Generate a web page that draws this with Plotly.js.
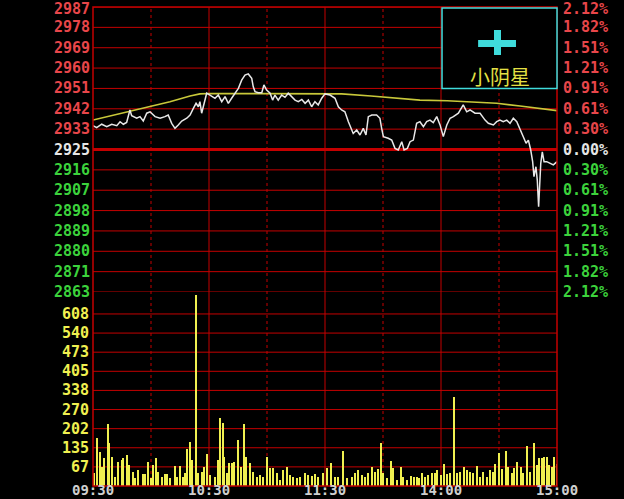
<!DOCTYPE html>
<html>
<head>
<meta charset="utf-8">
<script src="https://cdn.plot.ly/plotly-3.0.1.min.js"></script>
<style>
  html, body { margin: 0; padding: 0; background: #000; }
  #chart { width: 624px; height: 499px; }
</style>
</head>
<body>
<div id="chart"></div>
<script>
// ---------- data ----------
// time in minutes since 09:30 (trading minutes, 11:30/13:00 = 120)
const priceTimes = [0,1.9,4.5,7.1,9.7,12.3,14.0,15.7,17.4,19.1,20.0,22.6,24.3,26.0,27.8,29.5,32.1,34.7,37.2,38.9,40.7,42.4,44.1,45.9,48.5,50.2,51.9,53.3,54.5,55.3,56.2,57.9,58.8,60.5,63.1,64.8,66.6,68.3,70.0,71.7,73.4,75.2,76.9,78.6,80.3,82.1,82.9,83.8,85.5,87.3,88.4,89.8,91.6,92.9,94.1,95.8,97.6,99.3,101.0,102.8,104.5,106.2,108.0,109.7,111.4,113.1,114.8,116.5,118.3,120.0,122.6,125.2,126.9,128.6,130.3,132.1,133.8,134.6,136.4,138.1,139.8,141.2,142.4,144.2,146.7,148.4,149.3,150.2,152.7,154.5,156.2,157.9,159.7,160.9,162.6,164.0,165.7,167.4,169.1,170.9,172.6,174.3,176.0,177.8,179.5,181.2,183.0,184.7,186.4,189.0,191.5,193.3,195.0,197.6,200.2,202.8,204.5,207.1,208.8,210.5,212.2,214.0,215.7,217.4,219.2,220.9,222.6,224.0,225.2,226.4,227.4,228.1,229.1,229.8,230.5,231.2,231.6,232.4,233.3,234.7,236.4,238.1,240];
const prices = [2935.4,2934.5,2936.0,2934.9,2936.0,2935.4,2937.1,2936.0,2936.8,2942.2,2939.7,2938.6,2939.3,2937.4,2940.8,2941.4,2939.3,2938.6,2939.3,2940.0,2936.4,2934.2,2935.7,2937.4,2938.6,2940.0,2942.9,2945.1,2943.6,2945.8,2940.8,2947.3,2949.5,2948.7,2947.3,2948.7,2945.8,2948.0,2945.1,2947.3,2949.5,2951.6,2955.2,2957.4,2957.9,2956.0,2952.3,2950.2,2949.7,2949.7,2953.1,2950.9,2949.5,2946.5,2948.7,2946.5,2948.7,2947.7,2949.5,2948.0,2946.5,2945.8,2946.8,2945.1,2946.5,2943.6,2945.8,2944.4,2947.3,2949.2,2948.7,2947.3,2943.6,2942.2,2941.4,2937.1,2933.5,2932.0,2933.5,2931.3,2934.2,2931.3,2939.3,2940.0,2940.0,2938.6,2934.2,2930.6,2929.9,2929.1,2925.5,2924.8,2928.4,2924.8,2925.5,2928.4,2929.1,2936.4,2937.1,2934.9,2937.1,2937.8,2936.7,2939.3,2935.7,2930.6,2935.7,2938.6,2939.3,2940.8,2944.4,2941.4,2942.2,2940.8,2940.8,2937.8,2936.4,2935.7,2937.1,2937.8,2937.1,2937.8,2936.4,2938.6,2937.1,2933.5,2930.6,2927.7,2929.1,2924.8,2919.7,2913.2,2917.5,2911.7,2900.1,2911.7,2919.0,2924.0,2919.7,2919.7,2919.0,2918.3,2919.7];

const avgTimes = [0,8.8,19.1,29.5,39.8,50.2,55.3,60.5,120,128.6,143.8,159.3,169.1,183.2,195,208.8,220.9,229.5,240];
const avgPrices = [2937.8,2939.6,2941.4,2943.5,2945.8,2948.3,2949.2,2949.4,2949.4,2949.2,2948.3,2947.3,2946.5,2946.2,2945.8,2945.1,2943.9,2942.9,2941.9];

const volTimes = [0.5,2.2,3.6,4.5,5.7,7.6,8.4,9.8,11.4,13.1,14.8,15.7,17.4,18.8,20.5,21.7,23.4,25.7,26.9,28.6,30.0,31.2,32.4,33.8,35.5,37.2,38.4,39.8,42.4,43.6,45.0,46.4,47.6,48.8,50.2,51.1,53.3,54.5,56.2,57.4,59.1,60.5,63.1,64.8,65.7,67.1,67.8,69.1,70.5,71.7,72.9,75.2,76.4,78.1,79.1,81.2,82.9,84.7,86.4,88.1,90.2,91.6,93.3,95.0,96.7,98.4,100.2,101.9,103.6,105.4,107.1,109.7,111.4,113.1,114.8,116.5,118.8,120.9,122.9,125.2,126.9,129.5,131.2,133.8,135.5,137.2,139.0,140.7,142.4,144.2,145.9,147.6,149.0,150.2,152.2,154.0,155.3,157.1,159.2,160.5,162.6,164.3,166.0,167.4,168.8,170.0,171.7,173.4,175.2,176.9,178.1,179.9,181.6,183.3,184.7,186.9,188.4,189.8,191.9,193.3,195.0,196.7,198.5,200.2,201.9,203.6,205.3,206.7,208.1,209.9,211.4,213.6,214.8,216.6,217.8,219.5,221.2,222.6,224.3,226.0,228.1,229.5,230.7,232.1,233.3,234.7,236.0,237.3,238.5,239.9];
const volumes = [45,168,121,68,98,218,151,104,33,86,92,98,110,74,51,27,57,42,42,86,27,74,98,51,33,41,41,27,71,33,71,33,45,130,157,92,675,45,51,68,113,39,33,92,239,221,104,45,82,82,86,163,68,219,104,80,51,33,39,33,101,62,62,45,21,57,66,39,33,27,33,47,39,35,42,31,45,62,80,33,33,124,27,33,45,57,39,33,45,66,51,59,151,45,27,90,62,21,66,33,21,35,31,33,27,45,33,39,47,45,57,39,78,42,47,313,45,51,68,57,51,45,71,33,51,33,57,51,78,118,59,125,68,47,62,86,66,45,141,51,151,74,98,98,101,104,74,66,101,78];

// axis ticks
const priceTickVals = [2987.02,2978.16,2969.30,2960.44,2951.58,2942.72,2933.86,2925.00,2916.14,2907.28,2898.42,2889.56,2880.70,2871.84,2862.98];
const priceTickText = ["2987","2978","2969","2960","2951","2942","2933","2925","2916","2907","2898","2889","2880","2871","2863"];
const pctTickText = ["2.12%","1.82%","1.51%","1.21%","0.91%","0.61%","0.30%","0.00%","0.30%","0.61%","0.91%","1.21%","1.51%","1.82%","2.12%"];
const volTickVals = [607.5,540,472.5,405,337.5,270,202.5,135,67.5];
const volTickText = ["608","540","473","405","338","270","202","135","67"];
const timeTickVals = [0,60,120,180,240];
const timeTickText = ["09:30","10:30","11:30","14:00","15:00"];
const solidVLines = [60,120,180];
const dottedVLines = [30,90,150,210];
const baseIndex = 7;
const legendLabel = "小阴星";

// ---------- styles ----------
const RED = '#c40000';
const UP = '#e8464a';
const DOWN = '#3cd23c';
const FLAT = '#e6e6e6';
const VOLC = '#f0f050';
const labelFont = 'DejaVu Sans Mono';

const shapes = [];
priceTickVals.forEach((v, i) => {
  shapes.push({type:'line', xref:'paper', yref:'y', x0:0, x1:1, y0:v, y1:v,
    line:{color:RED, width: i === baseIndex ? 3 : 1}, layer:'below'});
});
volTickVals.forEach(v => {
  shapes.push({type:'line', xref:'paper', yref:'y2', x0:0, x1:1, y0:v, y1:v,
    line:{color:RED, width:1}, layer:'below'});
});
solidVLines.forEach(t => {
  shapes.push({type:'line', xref:'x', yref:'paper', x0:t, x1:t, y0:0, y1:1,
    line:{color:RED, width:1}, layer:'below'});
});
dottedVLines.forEach(t => {
  shapes.push({type:'line', xref:'x', yref:'paper', x0:t, x1:t, y0:0, y1:1,
    line:{color:RED, width:1, dash:'dot'}, layer:'below'});
});
// plot border
shapes.push({type:'rect', xref:'paper', yref:'paper', x0:0, x1:1, y0:0, y1:1,
  line:{color:RED, width:1.5}, layer:'above'});
// legend box (cyan) with plus glyph
const CYAN = '#3fdcdc';
shapes.push({type:'rect', xref:'paper', yref:'paper', x0:0.7522, x1:1.0, y0:0.8298, y1:0.9979,
  line:{color:CYAN, width:1.5}, fillcolor:'#000', layer:'above'});
shapes.push({type:'rect', xref:'paper', yref:'paper', x0:0.8300, x1:0.9116, y0:0.9165, y1:0.9311,
  line:{width:0}, fillcolor:CYAN, layer:'above'});
shapes.push({type:'rect', xref:'paper', yref:'paper', x0:0.8642, x1:0.8793, y0:0.8998, y1:0.9520,
  line:{width:0}, fillcolor:CYAN, layer:'above'});

const annotations = [];
priceTickVals.forEach((v, i) => {
  const col = i < baseIndex ? UP : (i === baseIndex ? FLAT : DOWN);
  const ys = i === 0 ? -2 : 0;
  annotations.push({xref:'paper', yref:'y', x:0, y:v, xanchor:'right', yanchor:'middle',
    xshift:-2, yshift:ys, text:priceTickText[i], showarrow:false, borderpad:0,
    font:{family:labelFont, size:15, color:col, weight:'bold'}});
  annotations.push({xref:'paper', yref:'y', x:1, y:v, xanchor:'left', yanchor:'middle',
    xshift:5, yshift:ys, text:pctTickText[i], showarrow:false, borderpad:0,
    font:{family:labelFont, size:15, color:col, weight:'bold'}});
});
volTickVals.forEach((v, i) => {
  annotations.push({xref:'paper', yref:'y2', x:0, y:v, xanchor:'right', yanchor:'middle',
    xshift:-2, text:volTickText[i], showarrow:false,
    font:{family:labelFont, size:15, color:VOLC, weight:'bold'}});
});
timeTickVals.forEach((t, i) => {
  annotations.push({xref:'x', yref:'paper', x:t, y:0, xanchor:'center', yanchor:'middle',
    yshift:-4, text:timeTickText[i], showarrow:false, borderpad:0,
    font:{family:labelFont, size:14, color:'#cfcfcf', weight:'bold'}});
});
annotations.push({xref:'paper', yref:'paper', x:0.8761, y:0.854, xanchor:'center', yanchor:'middle',
  text:legendLabel, showarrow:false,
  font:{family:'Noto Sans CJK SC', size:20, color:'#e4e044'}});

const traces = [
  {type:'bar', x:volTimes, y:volumes, xaxis:'x', yaxis:'y2', width:1.1,
   marker:{color:VOLC, line:{width:0}}, hoverinfo:'skip'},
  {type:'scatter', mode:'lines', x:avgTimes, y:avgPrices, xaxis:'x', yaxis:'y',
   line:{color:'#c8c83a', width:1.6}, hoverinfo:'skip'},
  {type:'scatter', mode:'lines', x:priceTimes, y:prices, xaxis:'x', yaxis:'y',
   line:{color:'#e8e8e8', width:1.5}, hoverinfo:'skip'}
];

const layout = {
  width:624, height:499,
  margin:{l:93, r:67, t:7, b:13},
  paper_bgcolor:'#000', plot_bgcolor:'#000',
  showlegend:false,
  bargap:0,
  xaxis:{domain:[0,1], range:[0,240], anchor:'y2', showgrid:false, zeroline:false, showline:false,
    showticklabels:false, ticks:'', automargin:false, fixedrange:true},
  yaxis:{domain:[0.405,1], range:[priceTickVals[priceTickVals.length-1], priceTickVals[0]],
    showgrid:false, zeroline:false, showticklabels:false, showline:false, fixedrange:true},
  yaxis2:{domain:[0,0.405], range:[0,685], showgrid:false, zeroline:false, showticklabels:false,
    showline:false, fixedrange:true},
  shapes:shapes,
  annotations:annotations
};

Plotly.newPlot('chart', traces, layout, {staticPlot:true, displayModeBar:false});
</script>
</body>
</html>
